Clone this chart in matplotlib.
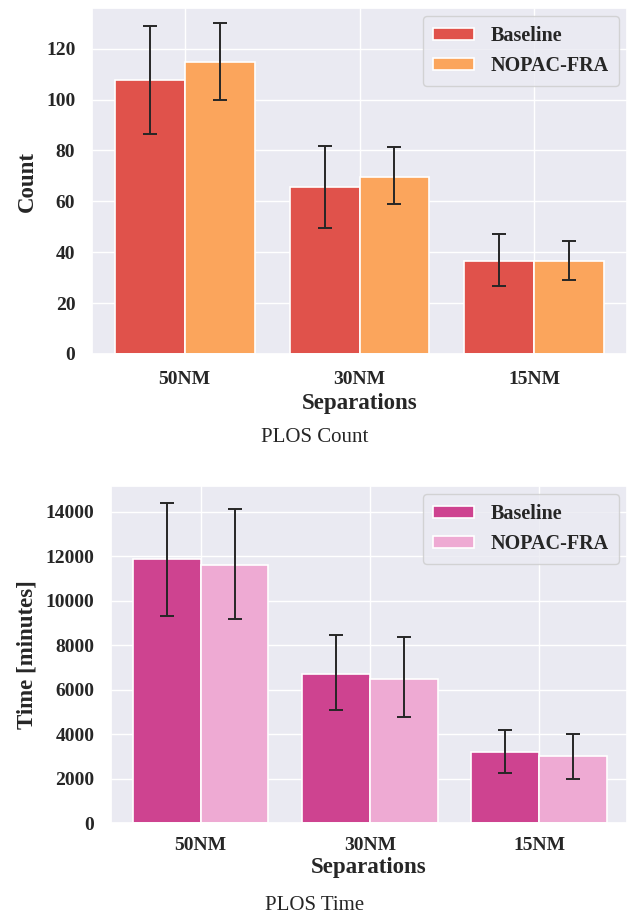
import numpy as np
import matplotlib
matplotlib.use("Agg")
import matplotlib.pyplot as plt
import seaborn as sns

# data
separations = ["50NM", "30NM", "15NM"]
series = ["Baseline", "NOPAC-FRA"]

count_base = [107.8, 65.6, 36.6]
count_base_lo = [86.6, 49.4, 26.9]
count_base_hi = [128.9, 81.7, 47.0]
count_nopac = [114.6, 69.4, 36.6]
count_nopac_lo = [99.9, 59.0, 28.9]
count_nopac_hi = [130.1, 81.2, 44.6]

time_base = [11860, 6690, 3200]
time_base_lo = [9300, 5060, 2270]
time_base_hi = [14390, 8460, 4160]
time_nopac = [11590, 6480, 3000]
time_nopac_lo = [9170, 4770, 2000]
time_nopac_hi = [14120, 8340, 4010]

sns.set_theme(style="darkgrid")
plt.rcParams['font.family'] = ['Liberation Serif', 'DejaVu Serif']

fig = plt.figure(figsize=(6.29, 9.13), dpi=100)


def draw(ax, vals, los, his, colors, ylabel, ylim, xlim, yticks, xpad, tpad):
    x = np.arange(len(separations))
    w = 0.4
    for i, (v, lo, hi) in enumerate(zip(vals, los, his)):
        v = np.array(v)
        err = [v - np.array(lo), np.array(hi) - v]
        pos = x - w / 2 + i * w
        ax.bar(pos, v, width=w, color=colors[i], edgecolor="white",
               linewidth=1.2, label=series[i])
        ax.errorbar(pos, v, yerr=err, fmt="none", ecolor="#262626",
                    elinewidth=1.4, capsize=5, capthick=1.4)
    ax.set_xticks(x)
    ax.set_xticklabels(separations)
    ax.set_yticks(yticks)
    ax.set_xlim(*xlim)
    ax.set_ylim(*ylim)
    for lab in ax.get_xticklabels() + ax.get_yticklabels():
        lab.set_fontweight("bold")
        lab.set_fontsize(14)
    ax.set_xlabel("Separations", fontsize=16.5, fontweight="bold",
                  labelpad=xpad)
    ax.set_ylabel(ylabel, fontsize=16.5, fontweight="bold", labelpad=6)
    ax.tick_params(axis="y", pad=6)
    ax.tick_params(axis="x", pad=tpad)
    ax.legend(loc="upper right", prop={"weight": "bold", "size": 14.5},
              handlelength=2.0, handleheight=0.6, borderpad=0.5,
              labelspacing=0.5, handletextpad=0.85, borderaxespad=0.4)


ax1 = fig.add_axes([92 / 629, 559 / 913, 535 / 629, 346 / 913])
draw(ax1, [count_base, count_nopac], [count_base_lo, count_nopac_lo],
     [count_base_hi, count_nopac_hi], ["#e0524b", "#fba55c"],
     "Count", (0, 136), (-0.53, 2.53), [0, 20, 40, 60, 80, 100, 120],
     4, 6)
fig.text(0.5, 1 - 438 / 913, "PLOS Count", ha="center", va="center",
         fontsize=15)

ax2 = fig.add_axes([111 / 629, 90 / 913, 516 / 629, 337 / 913])
draw(ax2, [time_base, time_nopac], [time_base_lo, time_nopac_lo],
     [time_base_hi, time_nopac_hi], ["#ce4390", "#eeaad3"],
     "Time [minutes]", (0, 15150), (-0.53, 2.52),
     np.arange(0, 14001, 2000), 2, 4)
fig.text(0.5, 1 - 905 / 913, "PLOS Time", ha="center", va="center",
         fontsize=15)

fig.savefig("out.png", dpi=100)
